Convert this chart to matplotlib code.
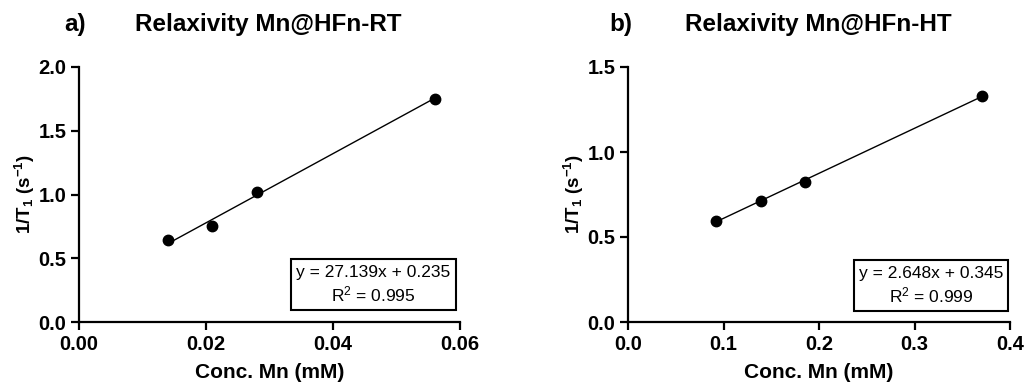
import matplotlib
matplotlib.use("Agg")
import matplotlib.pyplot as plt
import numpy as np

plt.rcParams['font.family'] = ['Liberation Sans', 'DejaVu Sans']
plt.rcParams['mathtext.fontset'] = 'custom'
plt.rcParams['mathtext.rm'] = 'Liberation Sans'
plt.rcParams['mathtext.bf'] = 'Liberation Sans:bold'
plt.rcParams['mathtext.it'] = 'Liberation Sans:italic'

# Panel a data
conc_a = [0.014, 0.021, 0.028, 0.056]
r1_a = [0.64, 0.755, 1.017, 1.75]
slope_a, icpt_a = 27.139, 0.235
# Panel b data
conc_b = [0.092, 0.139, 0.185, 0.371]
r1_b = [0.595, 0.71, 0.825, 1.33]
slope_b, icpt_b = 2.648, 0.345

xticks_a = [0.00, 0.02, 0.04, 0.06]
yticks_a = [0.0, 0.5, 1.0, 1.5, 2.0]
xticks_b = [0.0, 0.1, 0.2, 0.3, 0.4]
yticks_b = [0.0, 0.5, 1.0, 1.5]

W, H = 1025, 384
fig = plt.figure(figsize=(W/100, H/100), dpi=100)

def px_axes(x0, y_top, x1, y_bot):
    return fig.add_axes([x0/W, (H - y_bot)/H, (x1 - x0)/W, (y_bot - y_top)/H])

def style(ax, xt, yt, xfmt, yfmt):
    for s in ['top', 'right']:
        ax.spines[s].set_visible(False)
    for s in ['left', 'bottom']:
        ax.spines[s].set_linewidth(1.6)
    ax.set_xticks(xt)
    ax.set_yticks(yt)
    ax.set_xticklabels([xfmt.format(v) for v in xt], fontweight='bold', fontsize=14.5)
    ax.set_yticklabels([yfmt.format(v) for v in yt], fontweight='bold', fontsize=14.5)
    ax.tick_params(direction='out', length=6, width=1.6, pad=3)
    ax.set_xlim(xt[0], xt[-1])
    ax.set_ylim(yt[0], yt[-1])
    ax.set_xlabel('Conc. Mn (mM)', fontweight='bold', fontsize=15, labelpad=7)
    ax.set_ylabel(r'1/T$_\mathbf{1}$ (s$^\mathbf{-1}$)', fontweight='bold', fontsize=13.5, labelpad=1)

def panel(ax, x, y, m, b, eq, r2, pos):
    x = np.asarray(x)
    xs = np.array([x.min(), x.max()])
    ax.plot(xs, m*xs + b, color='black', lw=1.0, zorder=2)
    ax.plot(x, y, 'o', color='black', ms=7.5, zorder=3, clip_on=False)
    ax.text(pos[0], pos[1], eq + '\n' + r2, transform=ax.transAxes, ha='center', va='center',
            fontsize=12.5, linespacing=1.3,
            bbox=dict(boxstyle='square,pad=0.3', fc='white', ec='black', lw=1.5))

ax_a = px_axes(79, 67, 460, 322)
style(ax_a, xticks_a, yticks_a, '{:.2f}', '{:.1f}')
panel(ax_a, conc_a, r1_a, slope_a, icpt_a, 'y = 27.139x + 0.235', r'R$^2$ = 0.995', (0.773, 0.147))

ax_b = px_axes(628, 67, 1010, 322)
style(ax_b, xticks_b, yticks_b, '{:.1f}', '{:.1f}')
panel(ax_b, conc_b, r1_b, slope_b, icpt_b, 'y = 2.648x + 0.345', r'R$^2$ = 0.999', (0.793, 0.143))

fig.text(75/W, 1 - 25/H, 'a)', fontsize=17.5, fontweight='bold', ha='center', va='center')
fig.text(268/W, 1 - 25/H, 'Relaxivity Mn@HFn-RT', fontsize=17.5, fontweight='bold', ha='center', va='center')
fig.text(621/W, 1 - 25/H, 'b)', fontsize=17.5, fontweight='bold', ha='center', va='center')
fig.text(818/W, 1 - 25/H, 'Relaxivity Mn@HFn-HT', fontsize=17.5, fontweight='bold', ha='center', va='center')

fig.savefig('out.png', dpi=100, facecolor='white')
